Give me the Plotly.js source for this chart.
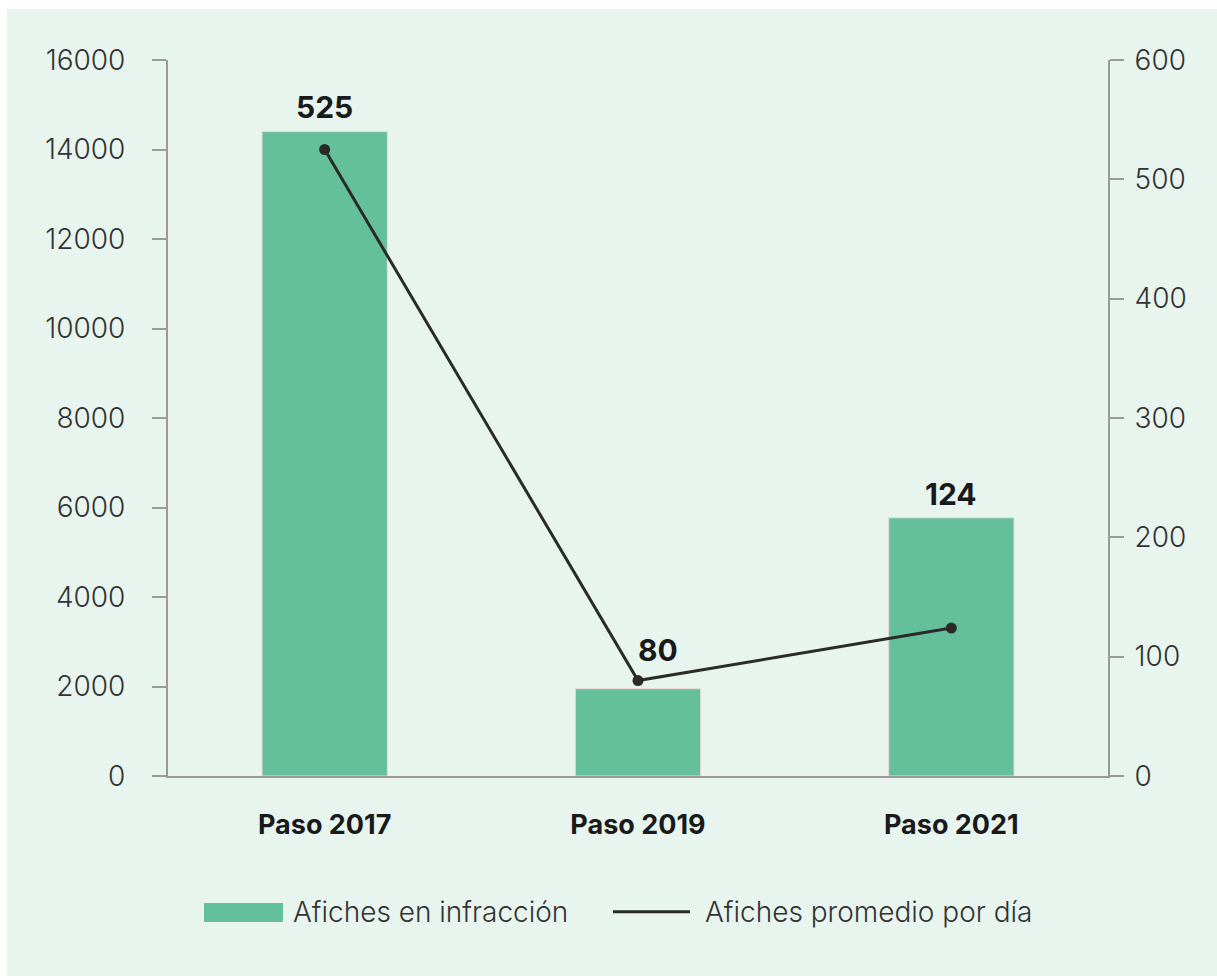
<!DOCTYPE html>
<html>
<head>
<meta charset="utf-8">
<script src="https://cdn.plot.ly/plotly-3.0.1.min.js"></script>
<style>
  body { margin: 0; background: #ffffff; }
  #chart { margin-left: 7px; margin-top: 9px; width: 1210px; height: 967px; }
</style>
</head>
<body>
<div id="chart"></div>
<script>
// datos
var categorias = ["Paso 2017", "Paso 2019", "Paso 2021"];
var afichesInfraccion = [14400, 1950, 5770];
var afichesPorDia = [525, 80, 124];
var ticksIzq = [0, 2000, 4000, 6000, 8000, 10000, 12000, 14000, 16000];
var ticksDer = [0, 100, 200, 300, 400, 500, 600];
var nombreBarras = "Afiches en infracción";
var nombreLinea = "Afiches promedio por día";

var verde = "#63c09b";
var fondo = "#e8f5ee";
var gris = "#9a9a9a";
var texto = "#333333";
var fuente = "Inter, 'Open Sans', sans-serif";

var barras = {
    type: "bar",
    x: categorias,
    y: afichesInfraccion,
    name: nombreBarras,
    width: 0.4,
    marker: { color: verde, line: { color: "#efd6d6", width: 1 } },
    showlegend: false,
    hoverinfo: "x+y"
};

var linea = {
    type: "scatter",
    mode: "lines+markers",
    x: categorias,
    y: afichesPorDia,
    yaxis: "y2",
    name: nombreLinea,
    line: { color: "#2a2a2a", width: 3 },
    marker: { color: "#2a2a2a", size: 11 },
    showlegend: false
};

// desplazamientos de las etiquetas respecto al tope de cada barra
var etiquetaDy = [25, 39, 24];
var etiquetaDx = [0, 20, 0];

var anotaciones = categorias.map(function (c, i) {
    return {
        x: c, y: afichesInfraccion[i], xref: "x", yref: "y",
        text: "<b>" + afichesPorDia[i] + "</b>",
        showarrow: false, yanchor: "middle",
        yshift: etiquetaDy[i], xshift: etiquetaDx[i],
        font: { family: fuente, size: 30, color: "#1a1a1a" }
    };
});

// leyenda hecha a mano
anotaciones.push({
    xref: "paper", yref: "paper", x: 0.131, y: -0.19,
    xanchor: "left", yanchor: "middle", showarrow: false,
    text: nombreBarras,
    font: { family: fuente, size: 28, color: texto, weight: 300 }
});
anotaciones.push({
    xref: "paper", yref: "paper", x: 0.5693, y: -0.19,
    xanchor: "left", yanchor: "middle", showarrow: false,
    text: nombreLinea,
    font: { family: fuente, size: 28, color: texto, weight: 300 }
});

var formas = [
    {
        type: "rect", xref: "paper", yref: "paper",
        x0: 0.0383, x1: 0.1223, y0: -0.2039, y1: -0.1774,
        fillcolor: verde, line: { width: 0 }
    },
    {
        type: "line", xref: "paper", yref: "paper",
        x0: 0.4734, x1: 0.5553, y0: -0.1896, y1: -0.1896,
        line: { color: "#2a2a2a", width: 3 }
    }
];

var layout = {
    width: 1210,
    height: 967,
    margin: { l: 161, r: 109, t: 51, b: 200 },
    paper_bgcolor: fondo,
    plot_bgcolor: fondo,
    showlegend: false,
    font: { family: fuente, color: texto },
    xaxis: {
        showline: true, linecolor: gris, linewidth: 2,
        ticks: "", showgrid: false, zeroline: false,
        ticklabelstandoff: 24,
        tickfont: { family: fuente, size: 27, color: "#1a1a1a", weight: 700 }
    },
    yaxis: {
        range: [0, 16000], tickvals: ticksIzq, tickformat: "d",
        showline: true, linecolor: gris, linewidth: 2,
        ticks: "outside", ticklen: 14, tickcolor: gris, tickwidth: 2,
        showgrid: false, zeroline: false,
        ticklabelstandoff: 21,
        tickfont: { family: fuente, size: 28, color: texto, weight: 300 }
    },
    yaxis2: {
        range: [0, 600], tickvals: ticksDer, tickformat: "d",
        overlaying: "y", side: "right",
        showline: true, linecolor: gris, linewidth: 2,
        ticks: "outside", ticklen: 14, tickcolor: gris, tickwidth: 2,
        showgrid: false, zeroline: false,
        ticklabelstandoff: 5,
        tickfont: { family: fuente, size: 28, color: texto, weight: 300 }
    },
    annotations: anotaciones,
    shapes: formas
};

Plotly.newPlot("chart", [barras, linea], layout, { displayModeBar: false });
</script>
</body>
</html>
